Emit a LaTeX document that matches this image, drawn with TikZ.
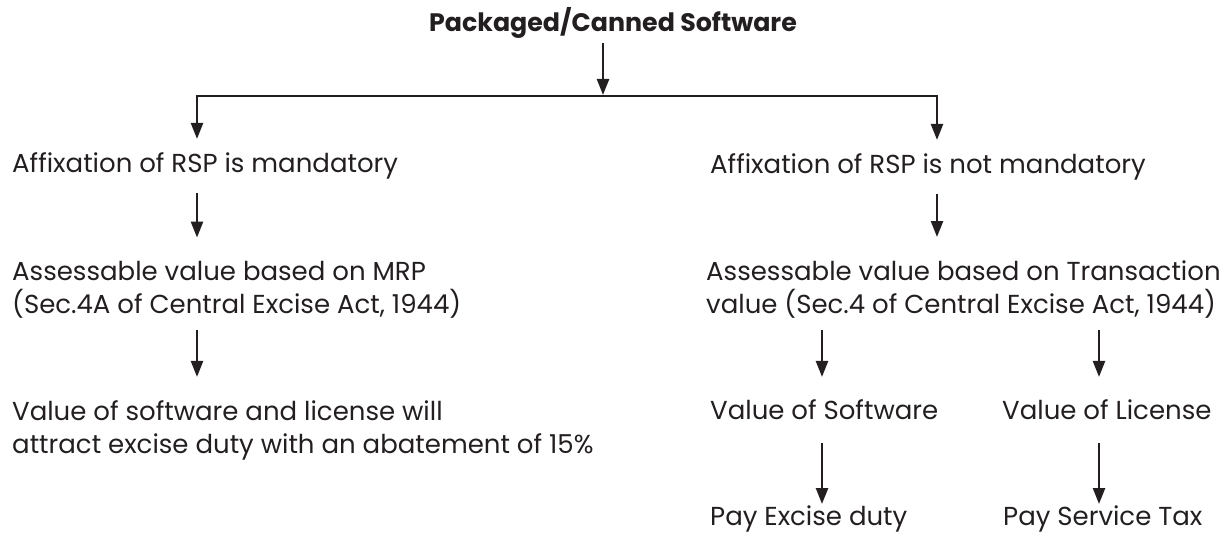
\documentclass[tikz,border=0pt]{standalone}
\usepackage{fontspec}
\setmainfont{Poppins}
\usetikzlibrary{arrows.meta}
\definecolor{ink}{HTML}{231F20}
\newcommand{\twolines}[2]{\vtop{\baselineskip=33pt\hbox{#1}\hbox{#2}}}
\tikzset{
  lbl/.style={anchor=base west, inner sep=0pt, text=ink, font=\fontsize{26}{33}\selectfont},
  ttl/.style={anchor=base, inner sep=0pt, text=ink, font=\fontsize{25.3}{33}\selectfont\bfseries},
  arr/.style={draw=ink, line width=2.4pt, -{Triangle[length=16pt,width=12pt]}},
  ln/.style={draw=ink, line width=2.6pt}
}
\begin{document}
\begin{tikzpicture}[x=1pt,y=1pt]
\useasboundingbox (0,0) rectangle (1224,-535);
\coordinate (xl) at (197,0);
\coordinate (xr) at (937,0);
\coordinate (xs) at (822,0);
\coordinate (xc) at (1099,0);
\coordinate (xm) at (603,0);

\node[ttl] (t) at (613,-32) {Packaged/Canned Software};
\coordinate (j) at (603,-96);
\coordinate (jl) at (197,-96);
\coordinate (jr) at (937,-96);

\node[lbl] (a1) at (12,-172) {Affixation of RSP is mandatory};
\node[lbl] (a2) at (710,-173) {Affixation of RSP is not mandatory};
\node[lbl] (b1) at (12,-280) {\twolines{Assessable value based on MRP}{(Sec.4A of Central Excise Act, 1944)}};
\node[lbl] (b2) at (706,-280) {\twolines{Assessable value based on Transaction}{value (Sec.4 of Central Excise Act, 1944)}};
\node[lbl] (c1) at (12,-420) {\twolines{Value of software and license will}{attract excise duty with an abatement of 15\%}};
\node[lbl] (c2) at (710,-419) {Value of Software};
\node[lbl] (c3) at (1002,-419) {Value of License};
\node[lbl] (d1) at (710,-525) {Pay Excise duty};
\node[lbl] (d2) at (1003,-525) {Pay Service Tax};

\draw[arr, shorten <=4pt, shorten >=1pt] (t.south -| xm) -- (j);
\draw[ln, line cap=rect] (jl) -- (jr);
\draw[arr, shorten >=13pt] (jl) -- (a1.north -| xl);
\draw[arr, shorten >=13pt] (jr) -- (a2.north -| xr);
\draw[arr, shorten <=14pt, shorten >=23pt] (a1.south -| xl) -- (b1.north -| xl);
\draw[arr, shorten <=14pt, shorten >=23pt] (a2.south -| xr) -- (b2.north -| xr);
\draw[arr, shorten <=12pt, shorten >=23pt] (b1.south -| xl) -- (c1.north -| xl);
\draw[arr, shorten <=12pt, shorten >=22pt] (b2.south -| xs) -- (c2.north -| xs);
\draw[arr, shorten <=12pt, shorten >=22pt] (b2.south -| xc) -- (c3.north -| xc);
\draw[arr, shorten <=24pt, shorten >=1pt] (c2.south -| xs) -- (d1.north -| xs);
\draw[arr, shorten <=24pt, shorten >=1pt] (c3.south -| xc) -- (d2.north -| xc);
\end{tikzpicture}
\end{document}
